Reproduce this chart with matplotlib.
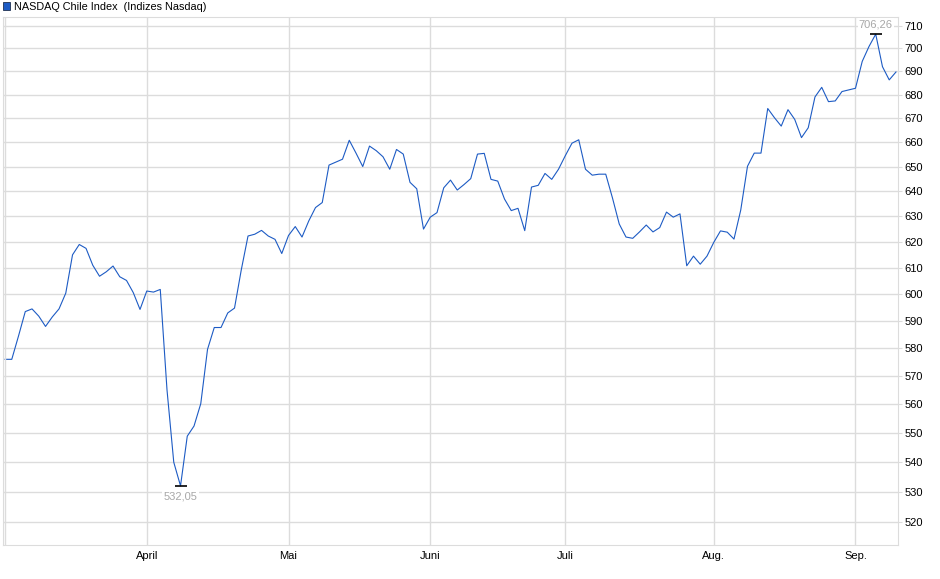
import pandas as pd
import matplotlib
matplotlib.use('Agg')
import matplotlib.pyplot as plt
from matplotlib.patches import Rectangle
from matplotlib.ticker import FixedLocator, NullLocator

plt.rcParams['font.family'] = ['Liberation Sans', 'DejaVu Sans']

title = 'NASDAQ Chile Index  (Indizes Nasdaq)'

# trading days, March 3 2025 - Sep 10 2025
holidays = ['2025-04-18', '2025-05-26', '2025-06-19', '2025-07-04', '2025-09-01']
dates = pd.bdate_range('2025-03-03', '2025-09-10')
dates = dates[~dates.isin(pd.to_datetime(holidays))]

values = [
    576, 576, 584.5, 593.5, 594.5, 591.8, 588, 591.5, 594.5, 600.4,
    615, 619, 617.5, 611, 606.8, 608.5, 610.7, 606.6, 605.2, 600.6,
    594.3, 601.2, 600.8, 601.8, 565, 540, 532.05, 548.9, 552.4, 560.2,
    579.6, 587.6, 587.6, 593, 594.8, 609.2, 622.3, 623, 624.5, 622.3,
    621, 615.5, 622.5, 626, 621.9, 628.2, 633.5, 635.5, 650.6, 651.8,
    653, 660.8, 655.5, 650, 658.4, 656.5, 654, 648.9, 657, 655.1,
    643.6, 641, 625, 629.7, 631.5, 641.4, 644.5, 640.5, 642.7, 645.1,
    655.1, 655.4, 644.8, 644.1, 636.9, 632.3, 633.2, 624.4, 641.7, 642.4,
    647.2, 644.8, 648.9, 654.4, 659.6, 661, 648.9, 646.5, 646.9, 646.9,
    637.3, 627, 621.9, 621.4, 623.9, 626.6, 623.9, 625.6, 631.7, 629.7,
    631, 610.8, 614.5, 611.4, 614.5, 619.8, 624.3, 623.8, 621.1, 632.5,
    650.1, 655.5, 655.5, 674.1, 670.2, 666.7, 673.6, 669.5, 661.9, 666,
    679, 683.1, 677, 677.3, 681.3, 682, 682.7, 694.3, 700.8, 706.26,
    692, 686.3, 689.7,
]

month_names = {4: 'April', 5: 'Mai', 6: 'Juni', 7: 'Juli', 8: 'Aug.', 9: 'Sep.'}
y_ticks = list(range(520, 711, 10))

df = pd.DataFrame({'date': dates, 'value': values})
df['i'] = range(len(df))

grid_c = '#dcdcdc'
line_c = '#1d5bc4'

fig = plt.figure(figsize=(9.4, 5.79), dpi=100)
W, H = 940, 579
ax = fig.add_axes([3 / W, (H - 545.3) / H, 895 / W, 528.3 / H])

ax.plot(df['i'], df['value'], color=line_c, lw=0.8)

ax.set_yscale('log')
ax.set_ylim(512.6, 713.9)
ax.set_xlim(-0.3, len(df) - 0.7)

ax.yaxis.set_major_locator(FixedLocator(y_ticks))
ax.yaxis.set_minor_locator(NullLocator())
ax.set_yticklabels([str(t) for t in y_ticks])
ax.yaxis.tick_right()

# month starts
first = df.groupby(df['date'].dt.month)['i'].min()
first = first[first.index.isin(month_names.keys())]
ax.set_xticks(first.values)
ax.set_xticklabels([month_names[m] for m in first.index])

ax.grid(True, color=grid_c, lw=1)
ax.axvline(0, color=grid_c, lw=1)
ax.tick_params(axis='y', length=3, color=grid_c, pad=1.5, labelsize=8, right=True, left=False)
ax.tick_params(axis='x', length=0, pad=4, labelsize=8)
for s in ax.spines.values():
    s.set_color(grid_c)

# min / max markers
imin = df['value'].idxmin()
imax = df['value'].idxmax()
for idx, off, va in [(imin, -4, 'top'), (imax, 3.5, 'bottom')]:
    v = df.loc[idx, 'value']
    ax.plot(idx, v, marker='_', ms=9, mew=1.2, color='black')
    ax.annotate(f'{v:.2f}'.replace('.', ','), (idx, v), xytext=(0, off),
                textcoords='offset points', ha='center', va=va, fontsize=8,
                color='#a8a8a8',
                bbox=dict(boxstyle='square,pad=0.1', fc='white', ec='none'))

# legend
fig.patches.append(Rectangle((2.5 / W, 1 - 10 / H), 7.5 / W, 7.5 / H, transform=fig.transFigure,
                             fc=line_c, ec='#203050', lw=0.6))
fig.text(14.5 / W, 1 - 6.5 / H, title, fontsize=7.8, va='center', ha='left')

fig.savefig('out.png', dpi=100)
